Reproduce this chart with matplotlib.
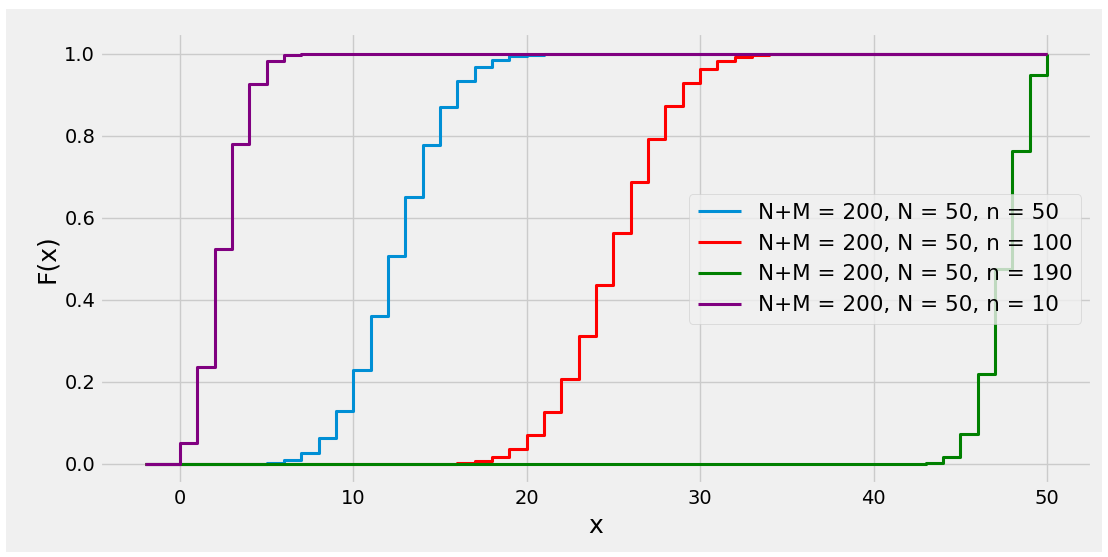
import matplotlib
matplotlib.use('Agg')
import matplotlib.pyplot as plt
from matplotlib.patches import Rectangle

# x positions and CDF values
x = list(range(-2, 51))

cdf_n50 = [0, 0, 0, 0, 0, 0, 0.001, 0.003, 0.01, 0.027, 0.063, 0.128, 0.228,
           0.36, 0.507, 0.652, 0.777, 0.87, 0.933, 0.968, 0.986, 0.995, 0.998,
           0.999] + [1.0] * 29
cdf_n100 = [0] * 17 + [0.001, 0.003, 0.007, 0.018, 0.037, 0.071, 0.126, 0.207,
                       0.313, 0.436, 0.564, 0.687, 0.793, 0.874, 0.929, 0.963,
                       0.982, 0.993, 0.997, 0.999] + [1.0] * 16
cdf_n190 = [0] * 45 + [0.003, 0.017, 0.073, 0.219, 0.475, 0.763, 0.948, 1.0]
cdf_n10 = [0, 0, 0.052, 0.237, 0.525, 0.781, 0.927, 0.983, 0.997, 1.0] + [1.0] * 43

labels = ['N+M = 200, N = 50, n = 50', 'N+M = 200, N = 50, n = 100',
          'N+M = 200, N = 50, n = 190', 'N+M = 200, N = 50, n = 10']
colors = ['#008fd5', 'red', 'green', 'purple']

plt.style.use('fivethirtyeight')
fig = plt.figure(figsize=(11.08, 5.57), dpi=100, facecolor='white')
fig.patches.append(Rectangle((6 / 1108, 5 / 557), 1096 / 1108, 543 / 557,
                             transform=fig.transFigure, facecolor='#f0f0f0',
                             edgecolor='none', zorder=-5))
ax = fig.add_axes([0.0903, 0.1302, 0.8953, 0.8097])

for ys, lab, col in zip([cdf_n50, cdf_n100, cdf_n190, cdf_n10], labels, colors):
    ax.step(x, ys, where='post', label=lab, color=col, linewidth=2.2)

ax.set_xlabel('x', fontsize=18)
ax.set_ylabel('F(x)', fontsize=18)
ax.tick_params(labelsize=14)
ax.legend(loc='center right', bbox_to_anchor=(1.0, 0.50), fontsize=15.5)

fig.savefig('out.png', dpi=100, facecolor='white')
